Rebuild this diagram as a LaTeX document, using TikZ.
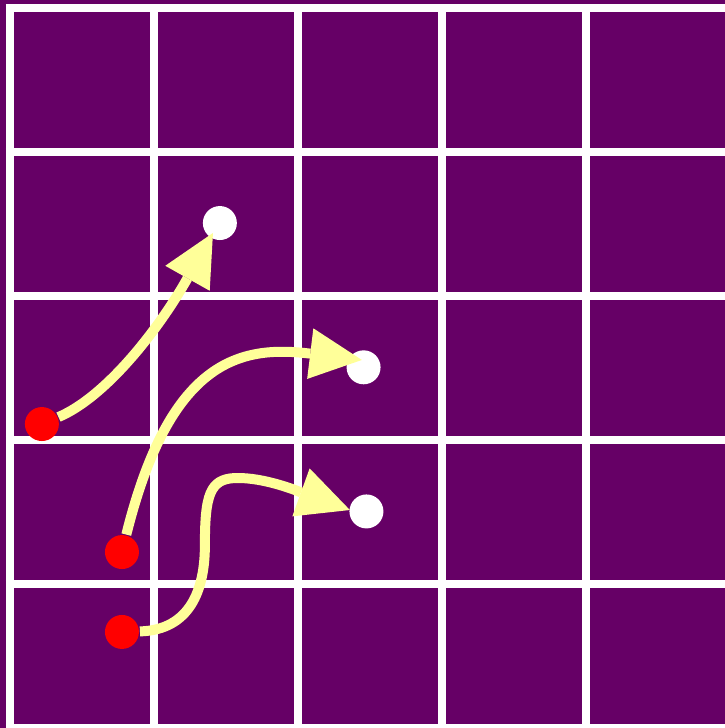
\documentclass[tikz,border=0pt]{standalone}
\usepackage{tikz}
\usetikzlibrary{arrows.meta}
\usepackage{xcolor}
\definecolor{fboard}{HTML}{660066}
\definecolor{fmove}{HTML}{FFFF99}
\tikzset{
  gridline/.style  = {draw=white, line width=0.556mm},
  whitedot/.style  = {fill=white, circle, inner sep=0pt, minimum size=2.36mm},
  reddot/.style    = {fill=red, circle, inner sep=0pt, minimum size=2.36mm},
  movearrow/.style = {draw=fmove, line width=0.694mm,
                      -{Triangle[length=3.61mm,width=3.54mm,line width=0pt]}},
}

\begin{document}
\begin{tikzpicture}[x=1cm,y=1cm]
\useasboundingbox (-0.069,0) rectangle (4.965,5.056);
\clip (-0.069,0) rectangle (4.965,5.056);
\fill[fboard] (-0.069,0) rectangle (4.965,5.056);
% board lines
\foreach \i in {0,...,4}
  \draw[gridline] (\i,-0.1) -- (\i,5.028);
\foreach \j in {0,...,5}
  \draw[gridline] (-0.028,\j) -- (5.1,\j);
% targets and starts
\node[whitedot] (w1) at (1.458,3.507) {};
\node[whitedot] (w2) at (2.456,2.505) {};
\node[whitedot] (w3) at (2.476,1.504) {};
\node[reddot] (r1) at (0.222,2.111) {};
\node[reddot] (r2) at (0.778,1.222) {};
\node[reddot] (r3) at (0.778,0.667) {};
\coordinate (t1) at (1.410,3.438);
\coordinate (t2) at (2.444,2.556);
\coordinate (t3) at (2.361,1.514);
% moves
\draw[movearrow] (r1) .. controls (0.667,2.299) and (1.035,2.771) .. (t1);
\draw[movearrow] (r2) .. controls (1.111,2.556) and (1.597,2.660) .. (t2);
\draw[movearrow] (r3) .. controls (1.25,0.681) and (1.354,0.958) .. (1.354,1.271)
  .. controls (1.354,1.618) and (1.389,1.729) .. (1.563,1.736)
  .. controls (1.771,1.743) and (2.014,1.639) .. (t3);
\end{tikzpicture}
\end{document}
